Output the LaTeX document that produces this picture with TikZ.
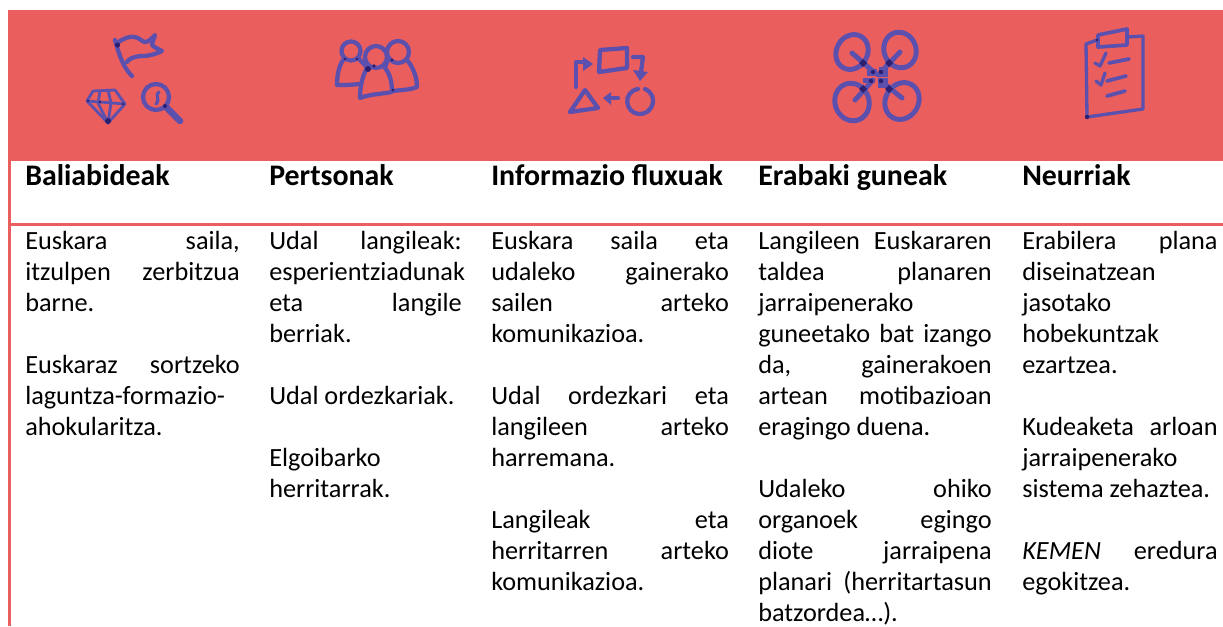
\documentclass[tikz,border=0pt]{standalone}
\usepackage{fontspec}
\setmainfont{Carlito}
\definecolor{band}{HTML}{EA5E5E}
\definecolor{ink}{HTML}{5C50AE}
\definecolor{dk}{HTML}{2A1F70}
\newcommand{\jl}[3]{\hbox to #1{#2\hfill #3}}
\tikzset{
 x=0.75pt,y=-0.75pt,
 head/.style={anchor=base west,inner sep=0pt,font=\fontsize{22.4}{26}\selectfont\bfseries},
 body/.style={anchor=north west,inner sep=0pt,align=left,font=\fontsize{19.7}{23.25}\selectfont},
 ic/.style={draw=ink,line width=3.2pt,line cap=round,line join=round},
 icthin/.style={draw=ink,line width=2.1pt,line cap=round,line join=round},
 dr/.style={draw=ink,line width=3.7pt,line cap=round,line join=round},
 dots/.style={fill=dk,draw=none}
}
\begin{document}
\begin{tikzpicture}
\useasboundingbox (0,0) rectangle (1223,626);
\fill[white] (0,0) rectangle (1223,626);
\fill[band] (8,10) rectangle (1223,161);
\fill[band] (8,161) rectangle (11,626);
\fill[band] (8,223) rectangle (1223,226);
% flag
\draw[ic] (115,40) .. controls (120,58) and (124,68) .. (132,76);
\draw[ic] (117,43) .. controls (124,38) and (130,36) .. (135,37) .. controls (140,38) and (142,42) .. (145,42) .. controls (149,42) and (152,38) .. (155,35) .. controls (154,39) and (152,42) .. (152,45) .. controls (154,47) and (158,49) .. (162,51) .. controls (156,54) and (149,56) .. (143,56) .. controls (138,56) and (135,57) .. (132,58) .. controls (130,59) and (128,60) .. (127,62);
\fill[dots] (117.5,45) circle (2.6);
% diamond
\draw[icthin] (93,91) -- (115,90) -- (125,104) -- (108,123) -- (87,101) -- cycle;
\draw[icthin] (87,101) -- (125,104);
\draw[icthin] (100,91) -- (98,103) -- (108,123) -- (111,103) -- (108,90);
\fill[dots] (108,121) circle (3);
\fill[dots] (88,101) circle (1.3);
\fill[dots] (123,104) circle (1.3);
\fill[dots] (100,102) circle (1.3);
% magnifier
\draw[ic] (156,97) circle (13);
\draw[ic,line width=2.4pt] (159,92) .. controls (154,95) and (161,99) .. (156,104);
\draw[ic,line width=5pt] (166,107) -- (180,121);
\fill[dots] (165,106) circle (2);
% people
\draw[ic] (351,51) circle (9.5);
\draw[ic] (398,52) circle (11);
\draw[ic] (376,57) circle (11);
\draw[ic] (343,60) .. controls (339,66) and (337,75) .. (337,85) .. controls (345,85) and (352,85) .. (359,84);
\draw[ic] (358,58) .. controls (361,61) and (364,64) .. (367,67);
\draw[ic] (388,59) .. controls (387,62) and (386,65) .. (385,68);
\draw[ic] (407,60) .. controls (413,67) and (417,77) .. (417,87) .. controls (410,90) and (400,90) .. (393,91);
\draw[ic] (367,68) .. controls (363,75) and (360,85) .. (360,98) .. controls (370,94) and (382,94) .. (392,92) .. controls (392,82) and (390,74) .. (385,68);
\fill[dots] (368,69) circle (3);
\fill[dots] (374,66) circle (1.8);
\fill[dots] (392,60) circle (1.6);
\fill[dots] (393,90) circle (1.5);
\fill[dots] (345,59) circle (1.3);
\fill[dots] (357,59) circle (1.3);
% flows
\draw[ic] (600,50) -- (627,48) -- (627,68) -- (599,72) -- cycle;
\draw[ic] (576,87) -- (576,62) -- (585,62);
\fill[ink] (593,64) -- (583,57) -- (583,71) -- cycle;
\draw[ic] (633,57) -- (643,57) -- (641,72);
\fill[ink] (633,70) -- (648,72) -- (640,81) -- cycle;
\draw[ic] (585,90) -- (598,108) -- (570,112) -- cycle;
\draw[ic] (618,98) -- (610,98);
\fill[ink] (603,98) -- (611,92) -- (611,105) -- cycle;
\draw[ic] (645,89) .. controls (660,96) and (652,115) .. (639,114) .. controls (625,113) and (622,92) .. (638,89);
% drone
\draw[dr,rotate around={-30:(852,52)}] (852,52) ellipse (15.5 and 18);
\draw[dr,rotate around={20:(900,50)}] (900,50) ellipse (16 and 18);
\draw[dr,rotate around={20:(852,102)}] (852,102) ellipse (17 and 19);
\draw[dr,rotate around={-30:(902,101)}] (902,101) ellipse (16.5 and 19);
\draw[dr] (852,53) -- (875,73);
\draw[dr] (900,52) -- (878,75);
\draw[dr] (855,100) -- (873,80);
\draw[dr] (902,98) -- (880,80);
\fill[ink] (867,69) rectangle (877,75.5);
\fill[ink] (879,67) rectangle (888,77);
\fill[ink] (863,77.5) rectangle (875,83);
\fill[ink] (878,78) rectangle (888,88);
\foreach \p in {(863,63),(889,63),(863,89),(889,89)} \fill[dots,shift={\p}] (-4,0) -- (0,-4) -- (4,0) -- (0,4) -- cycle;
\foreach \p in {(873,72),(881,72),(871,81),(881,81)} \fill[dots] \p circle (2.2);
% clipboard
\draw[icthin,line width=2.5pt] (1097,40) -- (1086,44) -- (1087,117) -- (1143,109) -- (1143,36) -- (1128,37);
\draw[ic,line width=2.8pt] (1098,35) -- (1127,29) -- (1127,45) -- (1098,47) -- cycle;
\draw[ic,line width=2.5pt] (1106,53) -- (1100,66) -- (1095,63);
\draw[ic,line width=2.5pt] (1105,73) -- (1101,85) -- (1096,81);
\draw[ic,line width=2.8pt] (1109,63) -- (1129,59);
\draw[ic,line width=2.8pt] (1107,81) -- (1126,76);
\draw[ic,line width=2.8pt] (1107,96) -- (1125,91);
\fill[dots] (1087,117) circle (2.2);
\fill[dots] (1097,40) circle (1.3);
% headers
\foreach \x/\t/\n in {25/Baliabideak/ha,269/Pertsonak/hb,491/Informazio fluxuak/hc,758/Erabaki guneak/hd,1022/Neurriak/he}
  \node[head] (\n) at (\x,185.5) {\t};
% body
\node[body] (ca) at (25,231.3) {\jl{160.9pt}{Euskara}{saila,}\\ \jl{160.9pt}{itzulpen}{zerbitzua}\\ barne.\\ \mbox{}\\ \jl{160.9pt}{Euskaraz}{sortzeko}\\ laguntza-formazio-\\ ahokularitza.};
\node[body] (cb) at (269,231.3) {\jl{144.4pt}{Udal}{langileak:}\\ \jl{144.4pt}{esperientziadunak}{}\\ \jl{144.4pt}{eta}{langile}\\ berriak.\\ \mbox{}\\ Udal ordezkariak.\\ \mbox{}\\ Elgoibarko\\ herritarrak.};
\node[body] (cc) at (491,231.3) {\jl{178.2pt}{Euskara\hfill saila}{eta}\\ \jl{178.2pt}{udaleko}{gainerako}\\ \jl{178.2pt}{sailen}{arteko}\\ komunikazioa.\\ \mbox{}\\ \jl{178.2pt}{Udal\hfill ordezkari}{eta}\\ \jl{178.2pt}{langileen}{arteko}\\ harremana.\\ \mbox{}\\ \jl{178.2pt}{Langileak}{eta}\\ \jl{178.2pt}{herritarren}{arteko}\\ komunikazioa.};
\node[body] (cd) at (758,231.3) {\jl{175.1pt}{Langileen}{Euskararen}\\ \jl{175.1pt}{taldea}{planaren}\\ jarraipenerako\\ \jl{175.1pt}{guneetako\hfill bat}{izango}\\ \jl{175.1pt}{da,}{gainerakoen}\\ \jl{175.1pt}{artean}{motibazioan}\\ eragingo duena.\\ \mbox{}\\ \jl{175.1pt}{Udaleko}{ohiko}\\ \jl{175.1pt}{organoek}{egingo}\\ \jl{175.1pt}{diote}{jarraipena}\\ \jl{175.1pt}{planari}{(herritartasun}\\ batzordea…).};
\node[body] (ce) at (1022,231.3) {\jl{146.5pt}{Erabilera}{plana}\\ diseinatzean\\ jasotako\\ hobekuntzak\\ ezartzea.\\ \mbox{}\\ \jl{146.5pt}{Kudeaketa}{arloan}\\ jarraipenerako\\ sistema zehaztea.\\ \mbox{}\\ \jl{146.5pt}{\textit{KEMEN}}{eredura}\\ egokitzea.};
\end{tikzpicture}
\end{document}
